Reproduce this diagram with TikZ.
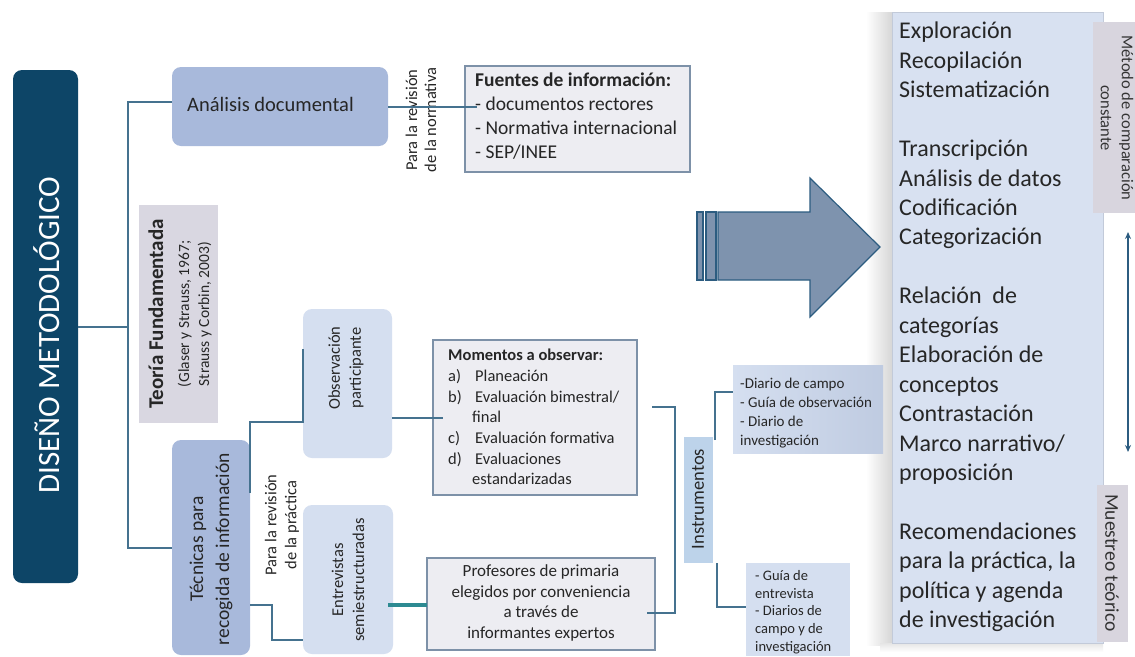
\documentclass[tikz,border=0pt]{standalone}
\usepackage{fontspec}
\setmainfont{Carlito}
\usetikzlibrary{fit,calc,arrows.meta}
\definecolor{dkblue}{HTML}{0D4567}
\definecolor{docblue}{HTML}{A8B9DB}
\definecolor{ltblue}{HTML}{D5DFF0}
\definecolor{ltbluedk}{HTML}{BFCBE1}
\definecolor{tfgray}{HTML}{D9D7E1}
\definecolor{infill}{HTML}{EDEDF2}
\definecolor{inborder}{HTML}{7D91A8}
\definecolor{instrc}{HTML}{BDD3EA}
\definecolor{connc}{HTML}{45728F}
\definecolor{tealc}{HTML}{2D8A92}
\definecolor{arrowf}{HTML}{7E93AE}
\definecolor{arrowd}{HTML}{2C5C80}
\definecolor{panelc}{HTML}{D8E1F1}
\definecolor{labc}{HTML}{D8D5DE}
\definecolor{txt}{HTML}{262626}
\newcommand\fsz[2]{\fontsize{#1}{#2}\selectfont}
\begin{document}
\begin{tikzpicture}[x=1pt,y=-1pt,
  area/.style={inner sep=0pt, outer sep=0pt},
  rbox/.style={area, rounded corners=9pt},
  lbl/.style={inner sep=0pt, text=txt},
  link/.style={draw=connc, line width=2pt},
  framed/.style={area, fill=infill, draw=inborder, line width=1.2pt},
]
\fill[white] (0,0) rectangle (1135,656);
\useasboundingbox (0,0) rectangle (1135,656);

% shadow of the right panel
\shade[left color=white, right color=black!16] (866,12) rectangle (892,645);
\shade[top color=black!10, bottom color=white] (880,643) rectangle (1103,652);

% main column
\node[rbox, fill=dkblue, fit={(13,70) (78,583)}] (dis) {};
\node[lbl, text=white, rotate=90, font=\fsz{31}{36}] (distxt) at (47,335) {DISEÑO METODOLÓGICO};

\node[rbox, fill=docblue, fit={(172,67) (388,146)}] (ana) {};
\node[lbl, anchor=west, font=\fsz{20.5}{25}] (anatxt) at (187,104) {Análisis documental};

\node[lbl, rotate=90, align=center, font=\fsz{16.5}{19}] (pn) at (421,120) {Para la revisión\\de la normativa};

\node[framed, fit={(465,66) (690,172)}] (fue) {};
\node[lbl, anchor=west, align=left, font=\fsz{19.5}{24}] (fuetxt) at (475,116) {\textbf{Fuentes de información:}\\- documentos rectores\\- Normativa internacional\\- SEP/INEE};

\node[area, fill=tfgray, fit={(139,205) (218,423)}] (teo) {};
\node[lbl, rotate=90, align=center, font=\fsz{15.5}{20}] (teotxt) at (180,314) {{\fsz{21}{24}\bfseries Teoría Fundamentada}\\[6pt](Glaser y Strauss, 1967;\\Strauss y Corbin, 2003)};

\node[rbox, fill=docblue, fit={(172,440) (250,655)}] (tec) {};
\node[lbl, rotate=90, align=center, font=\fsz{19.5}{26}] (tectxt) at (211,549) {Técnicas para\\recogida de información};

\node[rbox, fill=ltblue, fit={(303,309) (392,458)}] (obs) {};
\node[lbl, rotate=90, align=center, font=\fsz{16.5}{21}] (obstxt) at (346,368) {Observación\\participante};

\node[rbox, fill=ltblue, fit={(303,505) (393,654)}] (ent) {};
\node[lbl, rotate=90, align=center, font=\fsz{16.5}{21}] (enttxt) at (348,580) {Entrevistas\\semiestructuradas};

\node[lbl, rotate=90, align=center, font=\fsz{16.5}{20}] (pp) at (282,525) {Para la revisión\\de la práctica};

\node[framed, fit={(433,340) (637,495)}] (mom) {};
\node[lbl, anchor=west, align=left, font=\fsz{16.5}{20.7}] (momtxt) at (448,417) {\textbf{Momentos a observar:}\\\makebox[27pt][l]{a)}Planeación\\\makebox[27pt][l]{b)}Evaluación bimestral/\\\hspace*{24pt}final\\\makebox[27pt][l]{c)}Evaluación formativa\\\makebox[27pt][l]{d)}Evaluaciones\\\hspace*{24pt}estandarizadas};

\node[framed, fit={(427,558) (655,650)}] (prof) {};
\node[lbl, align=center, font=\fsz{17}{20.7}] (proftxt) at (541,603) {Profesores de primaria\\elegidos por conveniencia\\a través de\\informantes expertos};

\node[area, fill=instrc, fit={(684,437) (713,563)}] (ins) {};
\node[lbl, rotate=90, font=\fsz{18.5}{22}] (instxt) at (698,499) {Instrumentos};

\node[area, left color=ltblue, right color=ltbluedk, fit={(733,365) (883,453)}] (b1) {};
\node[lbl, anchor=west, align=left, font=\fsz{15}{19}] (b1txt) at (740,413) {-Diario de campo\\- Guía de observación\\- Diario de\\investigación};

\node[area, fill=ltblue, fit={(746,563) (850,656)}] (b2) {};
\node[lbl, anchor=west, align=left, font=\fsz{14.5}{17.7}] (b2txt) at (755,612) {- Guía de\\entrevista\\- Diarios de\\campo y de\\investigación};

% big arrow
\filldraw[fill=arrowf, draw=arrowd, line width=1.2pt] (697,212) rectangle (703,280);
\filldraw[fill=arrowf, draw=arrowd, line width=1.2pt] (706,212) rectangle (716,280);
\filldraw[fill=arrowf, draw=arrowd, line width=1.2pt, line join=miter]
  (718,212) -- (810,212) -- (810,178) -- (880,247) -- (810,317) -- (810,280) -- (718,280) -- cycle;

% right panel
\node[area, fill=panelc, draw=panelc!90!black, line width=0.6pt, fit={(892,12) (1103,643)}] (pan) {};
\node[lbl, anchor=west, align=left, font=\fsz{24}{29.45}] (pantxt) at (899,327) {Exploración\\Recopilación\\Sistematización\\\mbox{}\\Transcripción\\Análisis de datos\\Codificación\\Categorización\\\mbox{}\\Relación\ \ de\\categorías\\Elaboración de\\conceptos\\Contrastación\\Marco narrativo/\\proposición\\\mbox{}\\Recomendaciones\\para la práctica, la\\política y agenda\\de investigación};

\node[area, fill=labc, fit={(1093,22) (1135,213)}] (met) {};
\node[lbl, rotate=-90, align=center, font=\fsz{16.5}{21}, text=black!80] (mettxt) at (1117,118) {Método de comparación\\constante};

\node[area, fill=labc, fit={(1097,485) (1128,642)}] (mue) {};
\node[lbl, rotate=-90, font=\fsz{19.5}{22}, text=black!80] (muetxt) at (1112,563) {Muestreo teórico};

\coordinate (da1) at (1128,232);
\coordinate (da2) at (1128,452);
\draw[{Stealth[length=7pt,width=6pt]}-{Stealth[length=7pt,width=6pt]}, line width=1.6pt, draw=arrowd] (da1) -- (da2);

% connectors
\coordinate (trunk) at (128,327);
\draw[link] (dis.east |- trunk) -- (trunk);
\draw[link] (ana.west |- 0,102) -| (trunk) |- (tec.west);
\draw[link] (ana.east |- 0,107) -- ($(fue.west |- 0,107)+(12,0)$);
\draw[link] (tec.east |- 0,493) -- (tec.east |- 0,422) -- (obs.west |- 0,422) -- (obs.west |- 0,349);
\draw[link] (tec.east |- 0,605) -- (272,605) |- (ent.west |- 0,640);
\draw[link] (obs.east |- 0,418) -- ($(mom.west |- 0,418)+(10,0)$);
\draw[draw=tealc, line width=4.5pt] ($(ent.east |- 0,605)+(-5,0)$) -- (prof.west |- 0,605);
\draw[link] ($(mom.east |- 0,407)+(15,0)$) -| (675,613) -- ($(prof.east |- 0,613)+(-8,0)$);
\draw[link] ($(ins.east |- 0,440)+(2,0)$) |- (b1.west |- 0,392);
\draw[link] ($(ins.east |- 0,563)+(4,0)$) |- (b2.west |- 0,607);
\end{tikzpicture}
\end{document}
